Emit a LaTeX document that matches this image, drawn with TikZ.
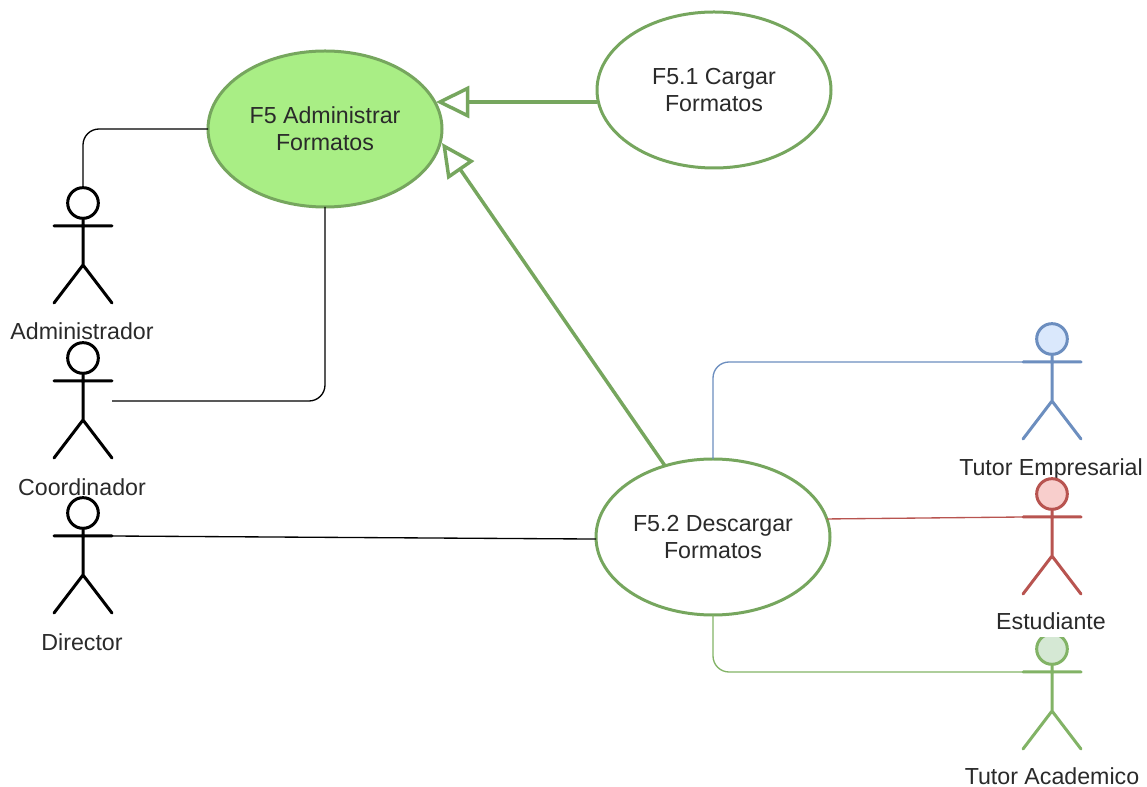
\documentclass[tikz,border=0pt]{standalone}
\usepackage{fontspec}
\setmainfont{Liberation Sans}
\usetikzlibrary{arrows.meta,shapes.geometric}
\definecolor{ucgreen}{HTML}{76A65E}
\definecolor{ucfill}{HTML}{A9EE85}
\definecolor{ucblue}{HTML}{6C8EBF}
\definecolor{ucbluef}{HTML}{DAE8FC}
\definecolor{ucred}{HTML}{B85450}
\definecolor{ucredf}{HTML}{F8CECC}
\definecolor{ucgreenl}{HTML}{82B366}
\definecolor{ucgreenf}{HTML}{D5E8D4}
\definecolor{txt}{HTML}{2A2A2A}
\tikzset{
  usecase/.style={ellipse,draw=ucgreen,line width=2.25pt,minimum width=175.5pt,minimum height=117pt,inner sep=0pt,outer sep=0pt,align=center,text=txt,font=\fontsize{17.4}{20.2}\selectfont},
  acthead/.style={circle,line width=2.25pt,minimum size=23pt,inner sep=0pt,outer sep=0pt},
  actlabel/.style={fill=white,inner sep=0pt,text height=12.5pt,text depth=0pt,text=txt,font=\fontsize{17.4}{20}\selectfont},
  actline/.style={line width=2.25pt,line cap=round,line join=round},
  conn/.style={line width=1pt,rounded corners=12pt},
  gen/.style={line width=2.6pt,draw=ucgreen,-{Triangle[open,length=25pt,width=24pt,fill=white]}}
}
% name, x, head y, stroke, fill, label, label x, label y
\newcommand{\actorfig}[8]{%
  \node[acthead,draw=#4,fill=#5] (#1) at (#2,#3) {};
  \coordinate (#1arml) at (#2-29,#3+23);
  \coordinate (#1armr) at (#2+29,#3+23);
  \coordinate (#1hip) at (#2,#3+62);
  \coordinate (#1footl) at (#2-29,#3+100);
  \coordinate (#1footr) at (#2+29,#3+100);
  \draw[actline,draw=#4] (#1.south) -- (#1hip) (#1arml) -- (#1armr)
    (#1footl) -- (#1hip) -- (#1footr);
  \node[actlabel] (#1lab) at (#7,#8) {#6};
}
\begin{document}
\begin{tikzpicture}[x=0.75pt,y=-0.75pt]
\useasboundingbox (0,0) rectangle (1147,787);
\actorfig{admin}{83}{203}{black}{white}{Administrador}{82}{331}
\actorfig{coord}{83}{358}{black}{white}{Coordinador}{82}{487}
\actorfig{direc}{83}{513}{black}{white}{Director}{82}{642}
\actorfig{empre}{1052}{339}{ucblue}{ucbluef}{Tutor Empresarial}{1051}{467}
\actorfig{acade}{1052}{649}{ucgreenl}{ucgreenf}{Tutor Academico}{1052}{776}
\begin{scope}[actlabel/.append style={text depth=3.5pt,inner ysep=2pt}]
\actorfig{estud}{1052}{494}{ucred}{ucredf}{Estudiante}{1051}{624}
\end{scope}
\node[usecase,fill=ucfill] (F5) at (325,129) {F5 Administrar\\Formatos};
\node[usecase,fill=white] (F51) at (714,90) {F5.1 Cargar\\Formatos};
\node[usecase,fill=white] (F52) at (713,537) {F5.2 Descargar\\Formatos};
\coordinate (tipA) at (436,102);
\coordinate (tipB) at (442,143);
\coordinate (coordend) at (112,401);
\draw[conn,black] (F5.west) -| (admin.north);
\draw[conn,black] (F5.south) |- (coordend);
\draw[line width=1pt,black] (direcarmr) -- (F52.181);
\draw[conn,ucblue] (F52.north) |- (emprearml);
\draw[line width=1pt,ucred] (F52.9) -- (estudarml);
\draw[conn,ucgreenl] (F52.south) |- (acadearml);
\draw[gen] (tipA -| F51.west) -- (tipA);
\draw[gen] (F52.124) -- (tipB);
\end{tikzpicture}
\end{document}
